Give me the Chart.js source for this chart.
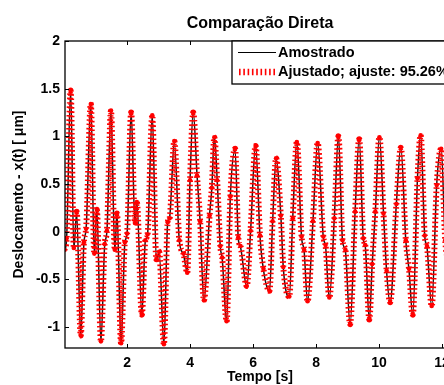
<!DOCTYPE html>
<html><head><meta charset="utf-8">
<script src="https://cdn.jsdelivr.net/npm/chart.js@4.4.0/dist/chart.umd.min.js"></script>
<style>html,body{margin:0;padding:0;overflow:hidden;background:#fff}#wrap{position:absolute;left:0;top:0;width:470px;height:385px}</style>
</head><body><div id="wrap"><canvas id="c" width="470" height="385"></canvas></div>
<script>
const tempo = [0.02,0.08,0.21,0.31,0.40,0.53,0.63,0.70,0.85,0.96,1.04,1.17,1.29,1.36,1.49,1.61,1.68,1.81,1.93,2.00,
2.13,2.25,2.31,2.47,2.58,2.65,2.80,2.93,3.02,3.17,3.29,3.35,3.50,3.66,3.79,3.91,4.00,4.10,4.22,4.32,
4.44,4.62,4.69,4.77,4.86,4.96,5.02,5.16,5.28,5.43,5.53,5.60,5.80,5.92,6.08,6.22,6.33,6.52,6.62,6.73,
6.88,6.96,7.15,7.26,7.39,7.54,7.62,7.73,7.90,8.05,8.23,8.30,8.42,8.58,8.71,8.84,8.93,9.08,9.24,9.37,
9.50,9.56,9.69,9.78,9.88,10.01,10.14,10.24,10.35,10.55,10.69,10.85,10.95,11.07,11.22,11.32,11.45,11.52,11.67,11.83,
11.97,12.10,12.20,12.32,12.42];
const amostrado = [-0.20,-0.08,1.49,-0.18,0.20,-1.10,-0.12,0.03,1.35,-0.24,0.24,-1.16,-0.14,0.00,1.27,-0.20,0.20,-1.18,-0.12,-0.02,
1.26,0.08,0.32,-0.86,-0.10,-0.03,1.23,-0.30,-0.22,-1.19,0.10,0.15,0.94,-0.10,-0.24,-0.42,0.55,1.26,0.60,0.10,
-0.73,0.18,0.45,1.00,0.55,-0.16,-0.28,-0.95,0.38,0.86,-0.07,-0.16,-0.58,0.00,0.91,-0.05,-0.40,-0.63,0.10,0.76,
0.18,-0.38,-0.69,0.15,0.95,-0.06,-0.20,-0.74,0.10,0.94,-0.06,-0.15,-0.70,0.15,1.01,-0.10,-0.20,-0.98,0.22,0.98,
-0.08,-0.15,-0.93,-0.35,0.20,1.00,0.20,-0.42,-0.75,0.30,0.89,-0.10,-0.40,-0.88,0.57,1.02,-0.05,-0.16,-0.79,0.50,
0.88,-0.10,-0.35,-0.75,-0.30];
const ajustado = [-0.19,-0.07,1.48,-0.17,0.21,-1.09,-0.11,0.03,1.34,-0.23,0.23,-1.15,-0.13,0.01,1.27,-0.19,0.19,-1.17,-0.11,-0.02,
1.25,0.09,0.31,-0.87,-0.09,-0.03,1.22,-0.29,-0.21,-1.18,0.10,0.14,0.95,-0.09,-0.23,-0.43,0.54,1.25,0.59,0.11,
-0.72,0.17,0.46,0.99,0.54,-0.15,-0.27,-0.94,0.37,0.87,-0.06,-0.15,-0.57,0.01,0.90,-0.04,-0.39,-0.62,0.11,0.77,
0.17,-0.37,-0.68,0.14,0.94,-0.05,-0.19,-0.73,0.11,0.93,-0.05,-0.14,-0.69,0.14,1.00,-0.09,-0.19,-0.97,0.21,0.97,
-0.07,-0.14,-0.92,-0.34,0.21,0.99,0.19,-0.41,-0.74,0.29,0.88,-0.09,-0.39,-0.87,0.56,1.01,-0.04,-0.15,-0.78,0.49,
0.87,-0.09,-0.34,-0.74,-0.29];
const xTicks = [2,4,6,8,10,12];
const yTicks = [-1,-0.5,0,0.5,1,1.5,2];
const titulo = 'Comparação Direta';
const rotuloX = 'Tempo [s]';
const rotuloY = 'Deslocamento - x(t) [ μm]';
const legendas = ['Amostrado','Ajustado; ajuste: 95.26%'];

const FONT = '"Liberation Sans", Arial, Helvetica, sans-serif';
const pts = ys => tempo.map((t,i)=>({x:t,y:ys[i]}));

const frame = {
  id:'frame',
  beforeDraw(chart){const c=chart.ctx;c.save();c.fillStyle='#fff';c.fillRect(0,0,chart.width,chart.height);c.restore();},
  afterDraw(chart){
    const c=chart.ctx, a=chart.chartArea, sx=chart.scales.x, sy=chart.scales.y;
    c.save();
    c.strokeStyle='#000'; c.lineWidth=1.3;
    c.strokeRect(a.left,a.top,a.right-a.left,a.bottom-a.top);
    c.lineWidth=1;
    c.beginPath();
    xTicks.forEach(v=>{const p=Math.round(sx.getPixelForValue(v))+0.5;
      c.moveTo(p,a.bottom);c.lineTo(p,a.bottom-4);c.moveTo(p,a.top);c.lineTo(p,a.top+4);});
    yTicks.forEach(v=>{const p=Math.round(sy.getPixelForValue(v))+0.5;
      c.moveTo(a.left,p);c.lineTo(a.left+4,p);c.moveTo(a.right,p);c.lineTo(a.right-4,p);});
    c.stroke();
    c.fillStyle='#000'; c.textAlign='center'; c.textBaseline='middle';
    c.font='bold 16px '+FONT;
    c.fillText(titulo,(a.left+a.right)/2,24);
    c.font='bold 14px '+FONT;
    c.fillText(rotuloX,(a.left+a.right)/2,377);
    c.save(); c.translate(19,(a.top+a.bottom)/2); c.rotate(-Math.PI/2);
    c.font='bold 14px '+FONT; c.fillText(rotuloY,0,0); c.restore();
    const lx=232, ly=a.top, lw=221, lh=43;
    c.fillStyle='#fff'; c.fillRect(lx,ly,lw,lh);
    c.lineWidth=1.3; c.strokeStyle='#000'; c.strokeRect(lx,ly,lw,lh);
    c.lineWidth=1; c.strokeStyle='#000'; c.beginPath(); c.moveTo(238,52.5); c.lineTo(276,52.5); c.stroke();
    c.strokeStyle='#ff0000'; c.lineWidth=6.5; c.setLineDash([1.6,2.7]);
    c.beginPath(); c.moveTo(239,72); c.lineTo(277,72); c.stroke(); c.setLineDash([]);
    c.fillStyle='#000'; c.textAlign='left'; c.font='bold 14.5px '+FONT;
    c.fillText(legendas[0],278,53); c.fillText(legendas[1],278,72);
    c.restore();
  }
};

new Chart(document.getElementById('c'),{
  type:'line',
  data:{datasets:[
    {label:legendas[0],data:pts(amostrado),borderColor:'#1a1a1a',borderWidth:1.5,pointRadius:0,cubicInterpolationMode:'monotone',order:2},
    {label:legendas[1],data:pts(ajustado),borderColor:'#ff0000',borderWidth:6,borderDash:[1.6,2.7],pointRadius:2.3,pointBackgroundColor:'#ff0000',pointBorderWidth:0,cubicInterpolationMode:'monotone',order:1}
  ]},
  options:{
    responsive:false,animation:false,devicePixelRatio:1,
    layout:{padding:{left:0,right:15,top:41,bottom:0}},
    plugins:{legend:{display:false},tooltip:{enabled:false},title:{display:false}},
    scales:{
      x:{type:'linear',min:0.03,max:12.41,
        afterBuildTicks:s=>{s.ticks=xTicks.map(v=>({value:v}));},
        afterFit:s=>{s.height=37;},
        grid:{display:false,drawTicks:false},border:{display:false},
        ticks:{padding:7,color:'#000',font:{family:FONT,size:14,weight:'bold'},maxRotation:0,autoSkip:false,callback:v=>String(v)}},
      y:{type:'linear',min:-1.22,max:2,
        afterBuildTicks:s=>{s.ticks=yTicks.map(v=>({value:v}));},
        afterFit:s=>{s.width=65;},
        grid:{display:false,drawTicks:false},border:{display:false},
        ticks:{padding:5,color:'#000',font:{family:FONT,size:14,weight:'bold'},autoSkip:false,callback:v=>String(v)}}
    }
  },
  plugins:[frame]
});
</script></body></html>
